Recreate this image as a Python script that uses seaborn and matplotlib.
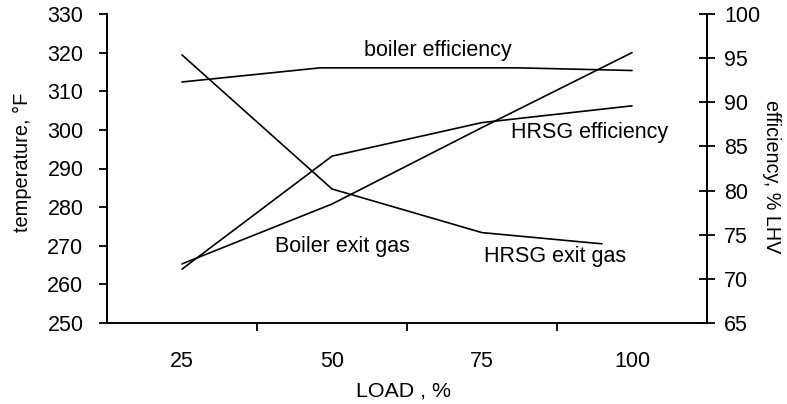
import matplotlib
matplotlib.use("Agg")
import matplotlib.pyplot as plt
import seaborn as sns

# ---- data ----
load_ticks = [25, 50, 75, 100]
tick_labels = ["25", "50", "75", "100"]

boiler_eff_load = [25, 48, 81, 100]
boiler_eff = [92.3, 93.9, 93.9, 93.6]          # % LHV (right axis)

hrsg_eff_load = [25, 50, 75, 100]
hrsg_eff = [71.1, 83.9, 87.7, 89.6]            # % LHV (right axis)

boiler_gas_load = [25, 50, 75, 100]
boiler_gas = [265.3, 280.8, 300.6, 320.0]      # degF (left axis)

hrsg_gas_load = [25, 50, 75, 95]
hrsg_gas = [319.4, 284.7, 273.4, 270.5]        # degF (left axis)

temp_ticks = [250, 260, 270, 280, 290, 300, 310, 320, 330]
eff_ticks = [65, 70, 75, 80, 85, 90, 95, 100]

# ---- style ----
sns.set_style("ticks")
plt.rcParams['font.family'] = ['Liberation Sans', 'DejaVu Sans']
plt.rcParams['text.color'] = 'black'
plt.rcParams['axes.labelcolor'] = 'black'
plt.rcParams['xtick.color'] = 'black'
plt.rcParams['ytick.color'] = 'black'

W, H = 787, 404
fig = plt.figure(figsize=(W / 100, H / 100), dpi=100)
L, R, T, B = 107, 707, 14, 323
ax = fig.add_axes([L / W, 1 - B / H, (R - L) / W, (B - T) / H])
ax2 = ax.twinx()

lw = 1.2
sns.lineplot(x=boiler_gas_load, y=boiler_gas, ax=ax, color='black', lw=lw, sort=False)
sns.lineplot(x=hrsg_gas_load, y=hrsg_gas, ax=ax, color='black', lw=lw, sort=False)
sns.lineplot(x=boiler_eff_load, y=boiler_eff, ax=ax2, color='black', lw=lw, sort=False)
sns.lineplot(x=hrsg_eff_load, y=hrsg_eff, ax=ax2, color='black', lw=lw, sort=False)

ax.set_xlim(12.5, 112.5)
ax.set_ylim(250, 330)
ax2.set_ylim(65, 100)

# spines
for s in ['top', 'right']:
    ax.spines[s].set_visible(False)
for s in ['top', 'left', 'bottom']:
    ax2.spines[s].set_visible(False)
for s in ['left', 'bottom']:
    ax.spines[s].set_linewidth(1.4)
    ax.spines[s].set_color('black')
ax2.spines['right'].set_linewidth(1.4)
ax2.spines['right'].set_color('black')

tfs = 15.5
# x ticks: labels at category centres, tick marks between categories
ax.set_xticks(load_ticks, tick_labels)
ax.set_xticks([37.5, 62.5, 87.5], minor=True)
ax.tick_params(axis='x', which='major', length=0, pad=20, labelsize=tfs)
ax.tick_params(axis='x', which='minor', length=6, width=1.3, direction='out')

# left y ticks
ax.set_yticks(temp_ticks)
ax.tick_params(axis='y', which='major', length=6, width=1.3, direction='out',
               pad=11, labelsize=tfs)

# right y ticks
ax2.set_yticks(eff_ticks)
ax2.tick_params(axis='y', which='major', length=11, width=1.3, direction='inout',
                pad=7, labelsize=tfs)

# axis labels
ax.set_xlabel("LOAD , %", fontsize=15.4)
ax.xaxis.set_label_coords((404 - L) / (R - L), (B - 391) / (B - T))
ax.xaxis.label.set_va('center')

ax.set_ylabel("temperature, °F", fontsize=14.4)
ax.yaxis.set_label_coords((22 - L) / (R - L), (B - 162) / (B - T))
ax.yaxis.label.set_va('center')
ax.yaxis.label.set_ha('center')

ax2.set_ylabel("efficiency, % LHV", fontsize=14.2, rotation=-90)
ax2.yaxis.set_label_coords((771 - L) / (R - L), (B - 177) / (B - T))
ax2.yaxis.label.set_va('center')
ax2.yaxis.label.set_ha('center')

# in-chart labels (left-axis data coordinates)
fs = 15.5
ax.text(67.6, 320.5, "boiler efficiency", fontsize=fs, ha='center', va='center')
ax.text(93.0, 299.4, "HRSG efficiency", fontsize=fs, ha='center', va='center')
ax.text(51.8, 269.7, "Boiler exit gas", fontsize=fs, ha='center', va='center')
ax.text(87.2, 267.1, "HRSG exit gas", fontsize=fs, ha='center', va='center')

fig.savefig("out.png", dpi=100)
